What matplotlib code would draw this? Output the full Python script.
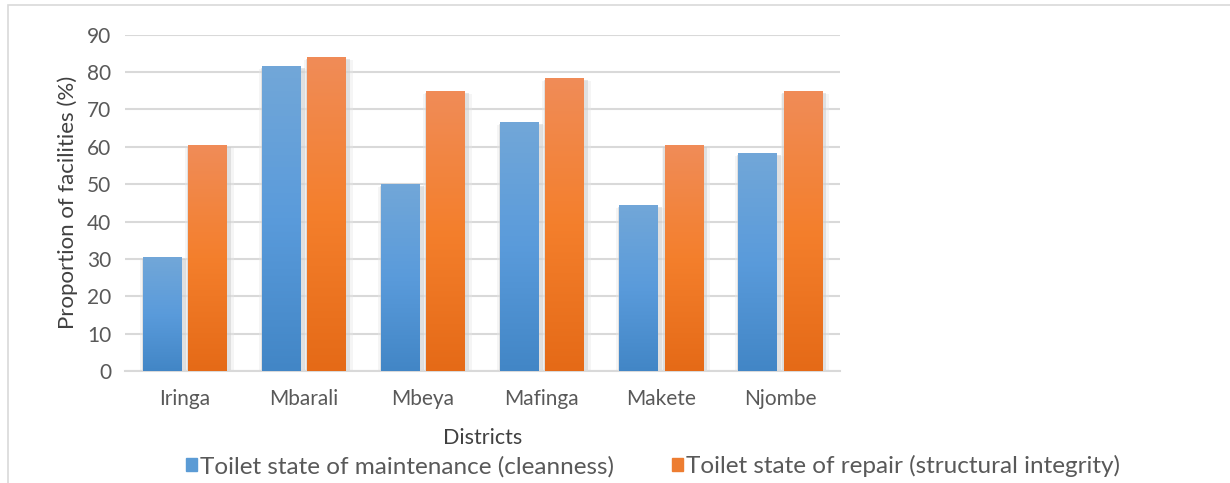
import numpy as np
import matplotlib.pyplot as plt
from matplotlib.colors import LinearSegmentedColormap
from matplotlib.patches import Rectangle, Patch

districts = ["Iringa", "Mbarali", "Mbeya", "Mafinga", "Makete", "Njombe"]
maintenance = [30.5, 81.7, 50.1, 66.7, 44.5, 58.4]
repair = [60.5, 84.1, 75.0, 78.5, 60.5, 75.0]
labels = ["Toilet state of maintenance (cleanness)",
          "Toilet state of repair (structural integrity)"]

plt.rcParams['font.family'] = ['Lato', 'DejaVu Sans']

fig = plt.figure(figsize=(12.3, 4.83), dpi=100)
ax = fig.add_axes([0.1016, 0.232, 0.581, 0.696])

# light frame around the chart
fig.patches.append(Rectangle((8 / 1230, -0.01), 1.2, 1 - 5 / 483 + 0.01,
                             transform=fig.transFigure, fill=False,
                             edgecolor='#d9d9d9', lw=1.2))

blue_cm = LinearSegmentedColormap.from_list('b', ['#4286c6', '#5a9bdb', '#72a7d8'])
orange_cm = LinearSegmentedColormap.from_list('o', ['#e56a17', '#f47f2c', '#f08c58'])
grad = np.linspace(0, 1, 256).reshape(-1, 1)

x = np.arange(len(districts))
w = 0.32
off = 0.19
for vals, dx, cm in [(maintenance, -off, blue_cm), (repair, off, orange_cm)]:
    # soft shadow
    ax.bar(x + dx + 0.015, vals, w + 0.05, bottom=-0.6, color='#c8c8c8', alpha=0.45, zorder=2)
    ax.bar(x + dx + 0.02, vals, w + 0.09, bottom=-0.9, color='#e6e6e6', alpha=0.4, zorder=1.9)
    bars = ax.bar(x + dx, vals, w, color='none', zorder=3)
    for b in bars:
        x0, y0 = b.get_x(), b.get_y()
        im = ax.imshow(grad, cmap=cm, aspect='auto', origin='lower',
                       extent=(x0, x0 + b.get_width(), y0, y0 + b.get_height()),
                       zorder=3)
        im.set_clip_path(b)

ax.set_xlim(-0.5, len(districts) - 0.5)
ax.set_ylim(0, 90)
ax.set_yticks(range(0, 91, 10))
ax.set_xticks(x)
ax.set_xticklabels(districts)
ax.grid(axis='y', color='#d9d9d9', lw=1.5, zorder=0)
ax.set_axisbelow(True)
for s in ['top', 'right', 'left']:
    ax.spines[s].set_visible(False)
ax.spines['bottom'].set_color('#d9d9d9')
ax.spines['bottom'].set_linewidth(1.5)
ax.tick_params(axis='both', length=0, labelsize=15, colors='#595959', pad=10)
ax.tick_params(axis='x', pad=13)
ax.set_ylabel("Proportion of facilities (%)", fontsize=16, color='#404040', labelpad=6)
ax.set_xlabel("Districts", fontsize=15.5, color='#404040', labelpad=14)

handles = [Patch(color='#5b9bd5'), Patch(color='#ed7d31')]
fig.legend(handles, labels, loc='center', bbox_to_anchor=(0.531, 0.035), ncol=2,
           frameon=False, fontsize=17.5, labelcolor='#595959', handlelength=0.45,
           handleheight=0.45, handletextpad=0.12, columnspacing=2.4)

fig.savefig("out.png", dpi=100)
